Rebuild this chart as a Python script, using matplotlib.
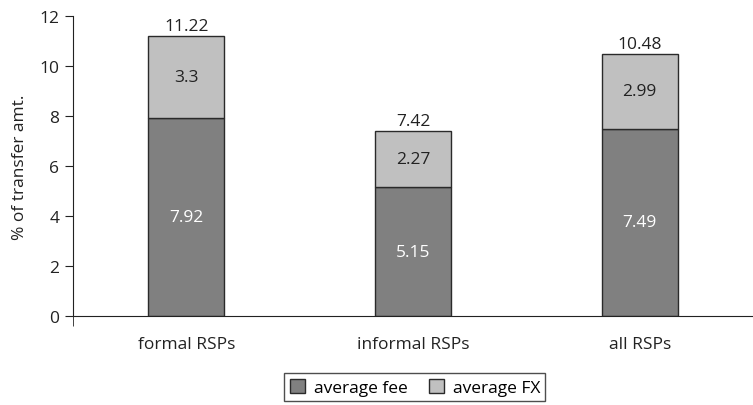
import matplotlib
matplotlib.use("Agg")
import matplotlib.pyplot as plt

categories = ["formal RSPs", "informal RSPs", "all RSPs"]
avg_fee = [7.92, 5.15, 7.49]
avg_fx = [3.3, 2.27, 2.99]
totals = [11.22, 7.42, 10.48]
yticks = [0, 2, 4, 6, 8, 10, 12]

plt.rcParams['font.family'] = ['Open Sans', 'DejaVu Sans']
fs = 12.5

fig = plt.figure(figsize=(7.53, 4.06), dpi=100)
ax = fig.add_axes([0.097, 0.219, 0.903, 0.739])

x = list(range(len(categories)))
w = 0.335
b1 = ax.bar(x, avg_fee, w, color="#808080", edgecolor="#2a2a2a", linewidth=1.0, label="average fee")
b2 = ax.bar(x, avg_fx, w, bottom=avg_fee, color="#c0c0c0", edgecolor="#2a2a2a", linewidth=1.0, label="average FX")

for i in x:
    ax.text(i, avg_fee[i] / 2, f"{avg_fee[i]:g}", ha="center", va="center", color="white", fontsize=fs)
    ax.text(i, avg_fee[i] + avg_fx[i] / 2, f"{avg_fx[i]:g}", ha="center", va="center", color="#222222", fontsize=fs)
    ax.text(i, totals[i] + 0.08, f"{totals[i]:g}", ha="center", va="bottom", color="#222222", fontsize=fs)

ax.set_xlim(-0.5, 2.5)
ax.set_ylim(0, 12)
ax.set_yticks(yticks)
ax.set_xticks(x)
ax.set_xticklabels(categories, fontsize=fs, color="#222222")
ax.tick_params(axis="x", length=0, pad=14)
ax.set_xticks([-0.5], minor=True)
ax.tick_params(axis="x", which="minor", length=7, direction="out", color="#222222")
ax.tick_params(axis="y", length=6, direction="out", labelsize=fs, colors="#222222", pad=4)
ax.set_ylabel("% of transfer amt.", fontsize=fs, color="#222222", labelpad=8)
for s in ["top", "right"]:
    ax.spines[s].set_visible(False)
for s in ["left", "bottom"]:
    ax.spines[s].set_color("#222222")

leg = fig.legend(handles=[b1, b2], loc="upper center", bbox_to_anchor=(0.551, 0.078), ncol=2,
                 frameon=True, fancybox=False, edgecolor="#222222", fontsize=fs,
                 handlelength=0.9, handleheight=0.9, columnspacing=1.2, handletextpad=0.5,
                 borderpad=0.3, borderaxespad=0)
leg.get_frame().set_linewidth(1.0)

fig.savefig("out.png", dpi=100)
